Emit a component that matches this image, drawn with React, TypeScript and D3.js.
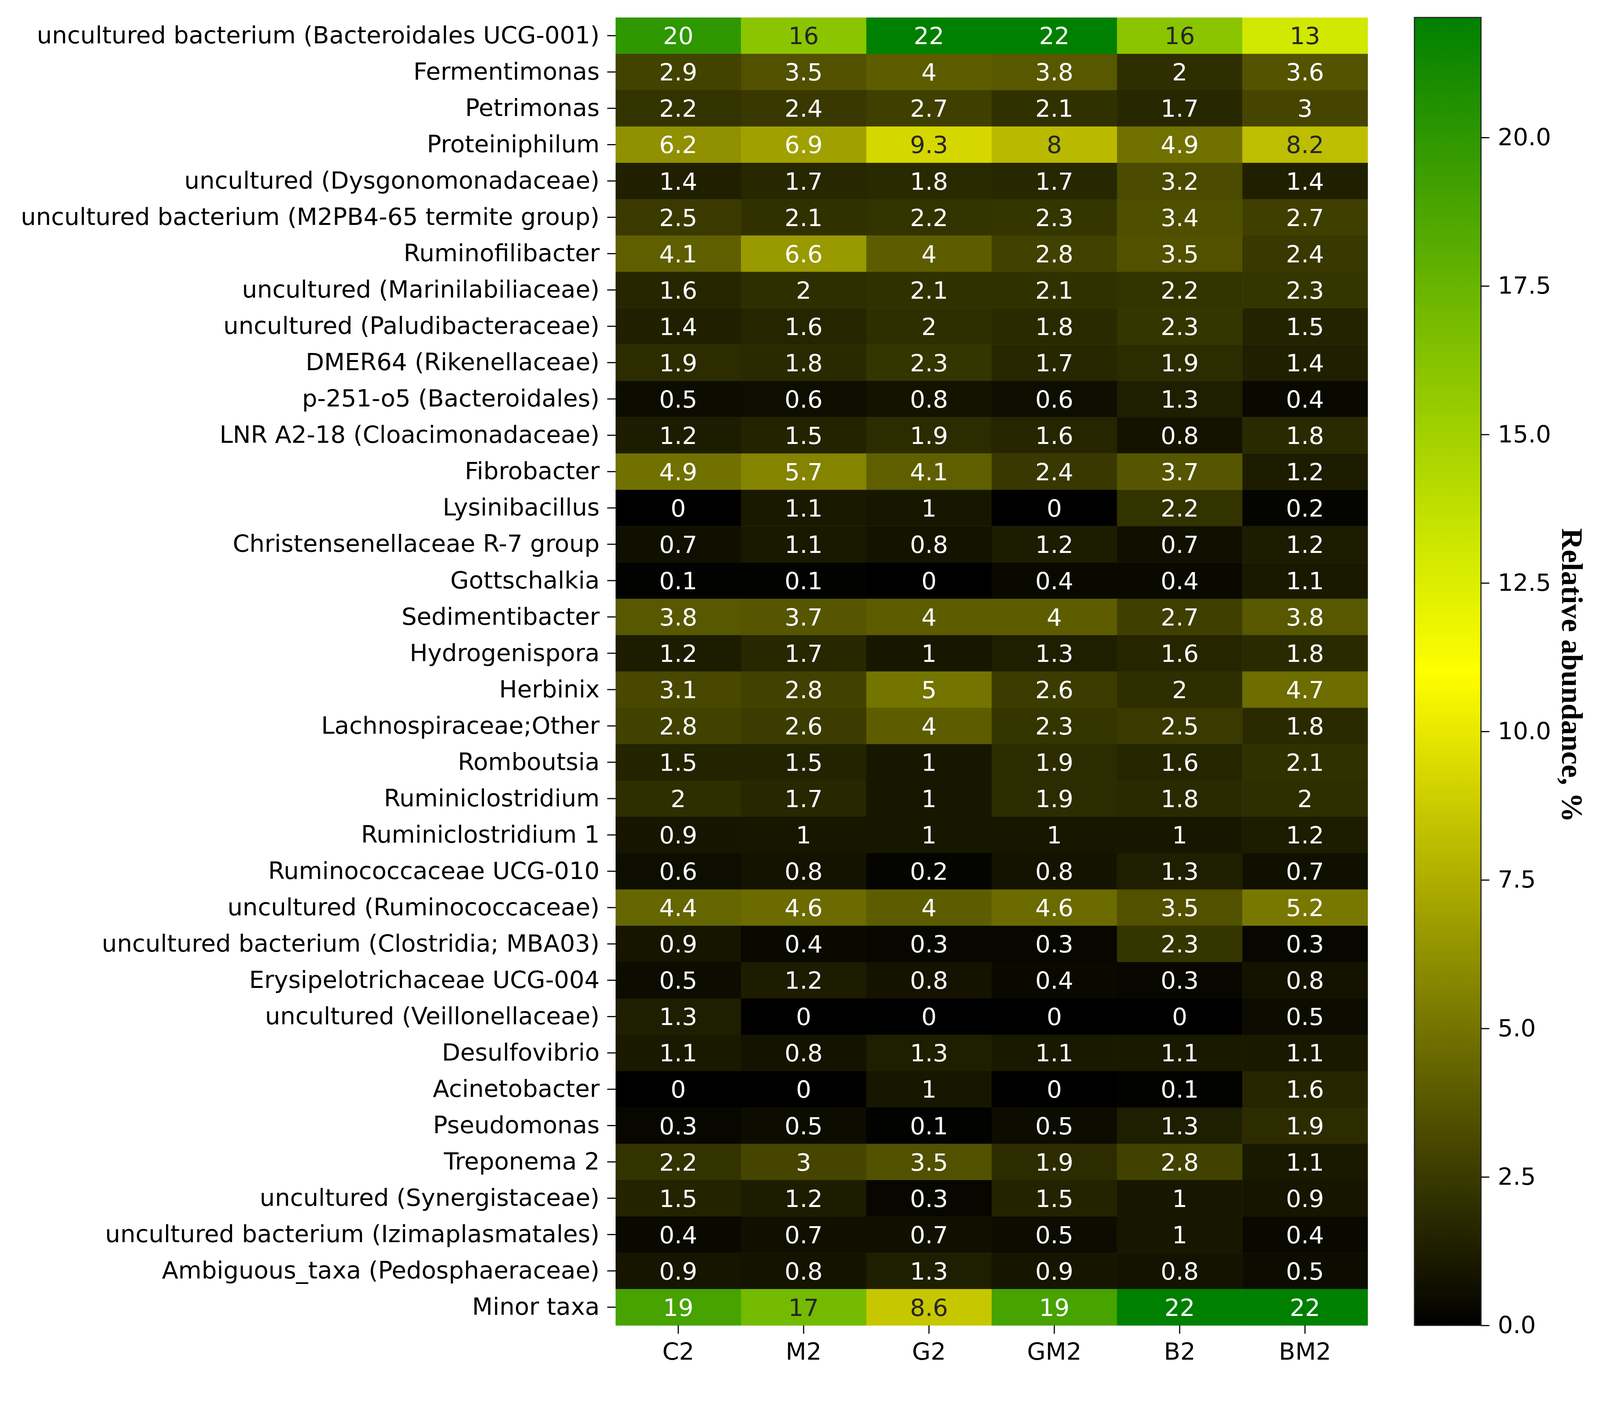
import React, { useEffect, useRef } from 'react';
import * as d3 from 'd3';

const samples = ['C2', 'M2', 'G2', 'GM2', 'B2', 'BM2'];

const taxa = [
  'uncultured bacterium (Bacteroidales UCG-001)',
  'Fermentimonas',
  'Petrimonas',
  'Proteiniphilum',
  'uncultured (Dysgonomonadaceae)',
  'uncultured bacterium (M2PB4-65 termite group)',
  'Ruminofilibacter',
  'uncultured (Marinilabiliaceae)',
  'uncultured (Paludibacteraceae)',
  'DMER64 (Rikenellaceae)',
  'p-251-o5 (Bacteroidales)',
  'LNR A2-18 (Cloacimonadaceae)',
  'Fibrobacter',
  'Lysinibacillus',
  'Christensenellaceae R-7 group',
  'Gottschalkia',
  'Sedimentibacter',
  'Hydrogenispora',
  'Herbinix',
  'Lachnospiraceae;Other',
  'Romboutsia',
  'Ruminiclostridium',
  'Ruminiclostridium 1',
  'Ruminococcaceae UCG-010',
  'uncultured (Ruminococcaceae)',
  'uncultured bacterium (Clostridia; MBA03)',
  'Erysipelotrichaceae UCG-004',
  'uncultured (Veillonellaceae)',
  'Desulfovibrio',
  'Acinetobacter',
  'Pseudomonas',
  'Treponema 2',
  'uncultured (Synergistaceae)',
  'uncultured bacterium (Izimaplasmatales)',
  'Ambiguous_taxa (Pedosphaeraceae)',
  'Minor taxa',
];

// one row per taxon, columns follow `samples`
const abundance: number[][] = [
  [20, 16, 22, 22, 16, 13],
  [2.9, 3.5, 4, 3.8, 2, 3.6],
  [2.2, 2.4, 2.7, 2.1, 1.7, 3],
  [6.2, 6.9, 9.3, 8, 4.9, 8.2],
  [1.4, 1.7, 1.8, 1.7, 3.2, 1.4],
  [2.5, 2.1, 2.2, 2.3, 3.4, 2.7],
  [4.1, 6.6, 4, 2.8, 3.5, 2.4],
  [1.6, 2, 2.1, 2.1, 2.2, 2.3],
  [1.4, 1.6, 2, 1.8, 2.3, 1.5],
  [1.9, 1.8, 2.3, 1.7, 1.9, 1.4],
  [0.5, 0.6, 0.8, 0.6, 1.3, 0.4],
  [1.2, 1.5, 1.9, 1.6, 0.8, 1.8],
  [4.9, 5.7, 4.1, 2.4, 3.7, 1.2],
  [0, 1.1, 1, 0, 2.2, 0.2],
  [0.7, 1.1, 0.8, 1.2, 0.7, 1.2],
  [0.1, 0.1, 0, 0.4, 0.4, 1.1],
  [3.8, 3.7, 4, 4, 2.7, 3.8],
  [1.2, 1.7, 1, 1.3, 1.6, 1.8],
  [3.1, 2.8, 5, 2.6, 2, 4.7],
  [2.8, 2.6, 4, 2.3, 2.5, 1.8],
  [1.5, 1.5, 1, 1.9, 1.6, 2.1],
  [2, 1.7, 1, 1.9, 1.8, 2],
  [0.9, 1, 1, 1, 1, 1.2],
  [0.6, 0.8, 0.2, 0.8, 1.3, 0.7],
  [4.4, 4.6, 4, 4.6, 3.5, 5.2],
  [0.9, 0.4, 0.3, 0.3, 2.3, 0.3],
  [0.5, 1.2, 0.8, 0.4, 0.3, 0.8],
  [1.3, 0, 0, 0, 0, 0.5],
  [1.1, 0.8, 1.3, 1.1, 1.1, 1.1],
  [0, 0, 1, 0, 0.1, 1.6],
  [0.3, 0.5, 0.1, 0.5, 1.3, 1.9],
  [2.2, 3, 3.5, 1.9, 2.8, 1.1],
  [1.5, 1.2, 0.3, 1.5, 1, 0.9],
  [0.4, 0.7, 0.7, 0.5, 1, 0.4],
  [0.9, 0.8, 1.3, 0.9, 0.8, 0.5],
  [19, 17, 8.6, 19, 22, 22],
];

const colorbarTicks = [0, 2.5, 5, 7.5, 10, 12.5, 15, 17.5, 20];
const vmax = 22.02;

const W = 4208;
const H = 3616;
const FONT = 'DejaVu Sans';

const App: React.FC = () => {
  const svgRef = useRef<SVGSVGElement>(null);

  useEffect(() => {
    document.body.style.margin = '0';
    document.body.style.overflow = 'hidden';
    if (!svgRef.current) return;
    const svg = d3.select(svgRef.current);
    svg.selectAll('*').remove();

    const left = 1619, right = 3597, top = 46, bottom = 3487;

    const x = d3.scaleBand<string>().domain(samples).range([left, right]);
    const y = d3.scaleBand<string>().domain(taxa).range([top, bottom]);
    const color = d3.scaleLinear<string>()
      .domain([0, vmax / 2, vmax])
      .range(['#000000', '#ffff00', '#008000'])
      .clamp(true);

    // seaborn-like annotation colour from the cell's luminance
    const lum = (c: string) => {
      const rgb = d3.rgb(c);
      const lin = (v: number) => {
        const s = v / 255;
        return s <= 0.03928 ? s / 12.92 : Math.pow((s + 0.055) / 1.055, 2.4);
      };
      return 0.2126 * lin(rgb.r) + 0.7152 * lin(rgb.g) + 0.0722 * lin(rgb.b);
    };

    const cells = taxa.flatMap((t, i) =>
      samples.map((s, j) => ({ t, s, v: abundance[i][j] }))
    );

    const g = svg.append('g');
    g.selectAll('rect.cell')
      .data(cells)
      .join('rect')
      .attr('class', 'cell')
      .attr('x', d => x(d.s)!)
      .attr('y', d => y(d.t)!)
      .attr('width', x.bandwidth() + 0.5)
      .attr('height', y.bandwidth() + 0.5)
      .attr('fill', d => color(d.v));

    g.selectAll('text.annot')
      .data(cells)
      .join('text')
      .attr('class', 'annot')
      .attr('x', d => x(d.s)! + x.bandwidth() / 2)
      .attr('y', d => y(d.t)! + y.bandwidth() / 2)
      .attr('dy', '0.36em')
      .attr('text-anchor', 'middle')
      .attr('font-family', FONT)
      .attr('font-size', 63)
      .attr('fill', d => (lum(color(d.v)) > 0.37 ? '#262626' : '#ffffff'))
      .text(d => d3.format('.2~g')(d.v));

    // axes
    const yAxis = svg.append('g')
      .attr('transform', `translate(${left},0)`)
      .call(d3.axisLeft(y).tickSize(22).tickPadding(20));
    const xAxis = svg.append('g')
      .attr('transform', `translate(0,${bottom})`)
      .call(d3.axisBottom(x).tickSize(22).tickPadding(24));
    [yAxis, xAxis].forEach(a => {
      a.select('.domain').remove();
      a.selectAll('line').attr('stroke', '#000').attr('stroke-width', 3);
      a.selectAll('text')
        .attr('font-family', FONT)
        .attr('font-size', 63)
        .attr('fill', '#000');
    });

    // colorbar
    const cbLeft = 3720, cbRight = 3895;
    const cy = d3.scaleLinear().domain([0, vmax]).range([bottom, top]);
    const grad = svg.append('defs').append('linearGradient')
      .attr('id', 'cbgrad')
      .attr('x1', 0).attr('y1', 1).attr('x2', 0).attr('y2', 0);
    d3.range(0, 1.0001, 0.05).forEach(f => {
      grad.append('stop')
        .attr('offset', f)
        .attr('stop-color', color(f * vmax));
    });
    svg.append('rect')
      .attr('x', cbLeft)
      .attr('y', top)
      .attr('width', cbRight - cbLeft)
      .attr('height', bottom - top)
      .attr('fill', 'url(#cbgrad)')
      .attr('stroke', '#222')
      .attr('stroke-width', 3);

    const cAxis = svg.append('g')
      .attr('transform', `translate(${cbRight},0)`)
      .call(d3.axisRight(cy).tickValues(colorbarTicks).tickFormat(d3.format('.1f')).tickSize(22).tickPadding(22));
    cAxis.select('.domain').remove();
    cAxis.selectAll('line').attr('stroke', '#000').attr('stroke-width', 3);
    cAxis.selectAll('text')
      .attr('font-family', FONT)
      .attr('font-size', 63)
      .attr('fill', '#000');

    svg.append('text')
      .attr('transform', `translate(4108,${(top + bottom) / 2 + 10}) rotate(90)`)
      .attr('text-anchor', 'middle')
      .attr('font-family', 'Liberation Serif')
      .attr('font-weight', 'bold')
      .attr('font-size', 78)
      .attr('fill', '#000')
      .text('Relative abundance, %');
  }, []);

  return (
    <svg
      ref={svgRef}
      viewBox={`0 0 ${W} ${H}`}
      style={{ display: 'block', width: '100%', height: 'auto', background: '#fff' }}
    />
  );
};

export default App;
